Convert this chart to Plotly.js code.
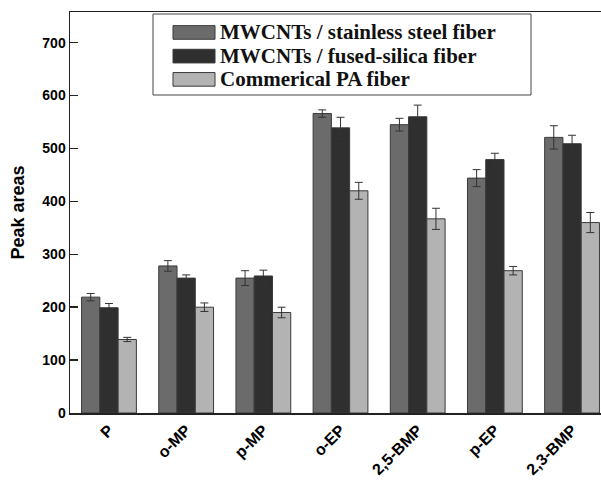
<!DOCTYPE html>
<html>
<head>
<meta charset="utf-8">
<script src="https://cdn.plot.ly/plotly-3.0.1.min.js"></script>
<style>html,body{margin:0;padding:0;background:#fff;}#chart{width:601px;height:487px;}</style>
</head>
<body>
<div id="chart"></div>
<script>
var categories = ["P", "o-MP", "p-MP", "o-EP", "2,5-BMP", "p-EP", "2,3-BMP"];
var seriesNames = ["MWCNTs / stainless steel fiber", "MWCNTs / fused-silica fiber", "Commerical PA fiber"];
var stainless = [219, 278, 255, 566, 545, 444, 521];
var stainlessErr = [7, 10, 14, 7, 12, 16, 22];
var fused = [199, 255, 259, 539, 560, 479, 509];
var fusedErr = [8, 6, 11, 20, 22, 12, 16];
var pa = [139, 200, 190, 420, 367, 269, 360];
var paErr = [4, 8, 10, 16, 20, 8, 19];
var colors = ["#6b6b6b", "#2f2f2f", "#b3b3b3"];

var values = [stainless, fused, pa];
var errs = [stainlessErr, fusedErr, paErr];
var traces = values.map(function (v, i) {
  return {
    type: "bar",
    name: seriesNames[i],
    x: categories,
    y: v,
    marker: {color: colors[i], line: {color: "#3a3a3a", width: 1}},
    error_y: {type: "data", array: errs[i], visible: true, color: "#333", thickness: 1, width: 4},
    showlegend: false
  };
});

// Custom legend (paper coords)
var shapes = [{
  type: "rect", xref: "paper", yref: "paper",
  x0: 0.1563, x1: 0.8682, y0: 0.793, y1: 0.995,
  line: {color: "#444", width: 1}, fillcolor: "rgba(255,255,255,0)"
}];
var annotations = [];
var rowY = [0.949, 0.890, 0.832];
for (var i = 0; i < seriesNames.length; i++) {
  shapes.push({
    type: "rect", xref: "paper", yref: "paper",
    x0: 0.194, x1: 0.2731, y0: rowY[i] - 0.017, y1: rowY[i] + 0.017,
    line: {color: "#3a3a3a", width: 1}, fillcolor: colors[i]
  });
  annotations.push({
    xref: "paper", yref: "paper", x: 0.2787, y: rowY[i],
    xanchor: "left", yanchor: "middle", showarrow: false,
    text: seriesNames[i],
    font: {family: "Liberation Serif, Times New Roman, serif", size: 21, color: "#111", weight: "bold"}
  });
}

var layout = {
  width: 601, height: 487,
  margin: {l: 70, r: 0, t: 12, b: 74},
  barmode: "group", bargap: 0.29, bargroupgap: 0,
  xaxis: {
    type: "category",
    range: [-0.505, 6.375],
    tickangle: -45,
    ticks: "",
    automargin: false,
    showline: true, mirror: true, linecolor: "#222", linewidth: 1.5,
    showgrid: false, zeroline: false,
    tickfont: {family: "Liberation Sans, Arial, sans-serif", size: 16, color: "#000", weight: "bold"}
  },
  yaxis: {
    range: [0, 758],
    dtick: 100, tick0: 0,
    ticks: "inside", ticklen: 8, tickwidth: 1.5, tickcolor: "#222",
    showline: true, mirror: false, linecolor: "#222", linewidth: 1.5,
    showgrid: false, zeroline: false,
    automargin: false,
    tickfont: {family: "Liberation Sans, Arial, sans-serif", size: 14, color: "#000", weight: "bold"},
    title: {text: "Peak areas", font: {family: "Liberation Sans, Arial, sans-serif", size: 18, color: "#000", weight: "bold"}}
  },
  yaxis2: {
    overlaying: "y", side: "left", anchor: "x",
    range: [0, 758], dtick: 50, tick0: 0,
    ticks: "inside", ticklen: 4, tickwidth: 1, tickcolor: "#222",
    showticklabels: false, showline: false, showgrid: false, zeroline: false
  },
  shapes: shapes,
  annotations: annotations
};

Plotly.newPlot("chart", traces, layout, {displayModeBar: false, staticPlot: true}).then(function (gd) {
  return Plotly.relayout(gd, {"xaxis.tickangle": -45});
});
</script>
</body>
</html>
